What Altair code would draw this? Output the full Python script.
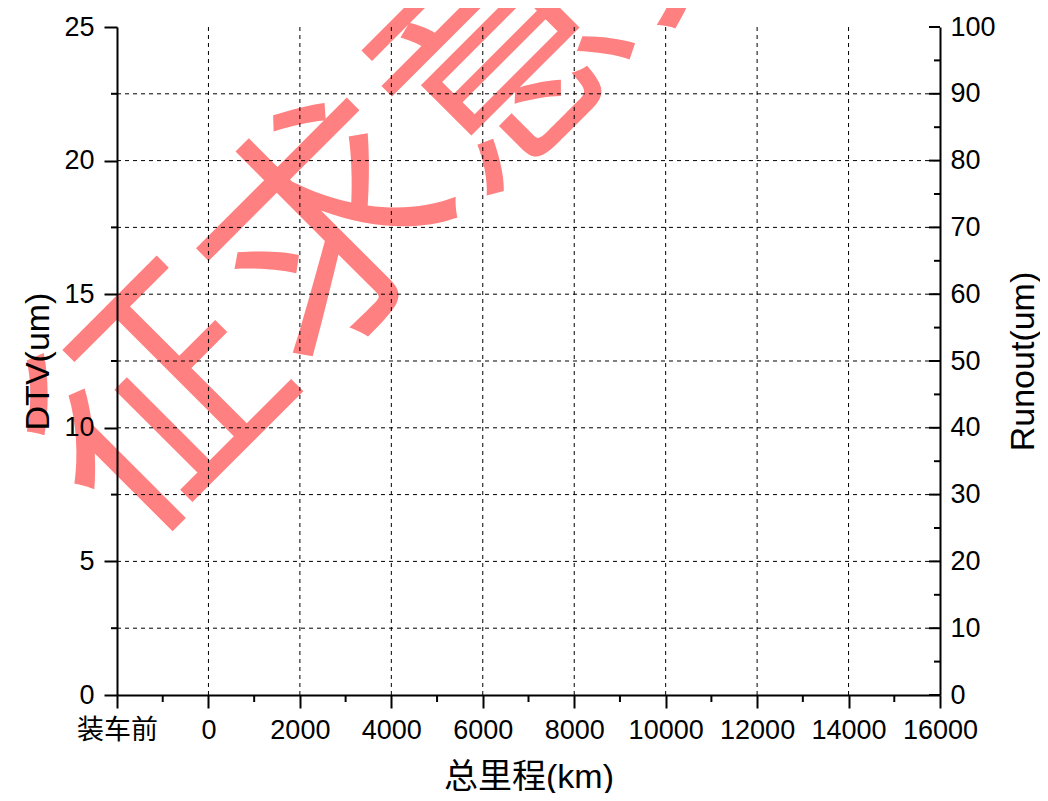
import altair as alt
import pandas as pd

# ---- data (axis ticks / labels) ----
x_major = [-2000, 0, 2000, 4000, 6000, 8000, 10000, 12000, 14000, 16000]
x_first_label = "装车前"
x_minor = [-1000, 1000, 3000, 5000, 7000, 9000, 11000, 13000, 15000]
x_grid = [0, 2000, 4000, 6000, 8000, 10000, 12000, 14000]
dtv_major = [0, 5, 10, 15, 20, 25]
dtv_minor = [2.5, 7.5, 12.5, 17.5, 22.5]
runout_major = [0, 10, 20, 30, 40, 50, 60, 70, 80, 90, 100]
runout_minor = [5, 15, 25, 35, 45, 55, 65, 75, 85, 95]
runout_grid = [10, 20, 30, 40, 50, 60, 70, 80, 90]
watermark_text = ["征求意见稿"]

W, H = 823, 668
FONT = "Liberation Sans, Noto Sans CJK SC"
X_DOM = [-2000, 16000]
DTV_DOM = [0, 25]
RUN_DOM = [0, 100]

xs = alt.Scale(domain=X_DOM, nice=False, zero=False)
ls = alt.Scale(domain=DTV_DOM, nice=False, zero=False)
rs = alt.Scale(domain=RUN_DOM, nice=False, zero=False)

x_axis = alt.Axis(
    orient="bottom", values=x_major, format="d",
    labelExpr=f"datum.value == {x_major[0]} ? '{x_first_label}' : datum.label",
    title="总里程(km)", grid=False, tickSize=13, tickWidth=2, domainWidth=2,
    labelPadding=9, titlePadding=17, zindex=1, labelOverlap=False,
    labelFlush=False)

def X():
    return alt.X("x:Q", scale=xs, axis=x_axis)

# watermark
wm = alt.Chart(pd.DataFrame({"t": watermark_text})).mark_text(
    angle=315, fontSize=244, color="#ff8080", align="center", baseline="middle",
    font="Noto Sans CJK SC"
).encode(text="t:N", x=alt.value(391), y=alt.value(38))

# grid lines
vgrid = alt.Chart(pd.DataFrame({"x": x_grid})).mark_rule(
    color="black", strokeWidth=1, strokeDash=[4, 4]
).encode(x=X(), y=alt.value(0), y2=alt.value(H))

hgrid = alt.Chart(pd.DataFrame({"r": runout_grid})).mark_rule(
    color="black", strokeWidth=1, strokeDash=[4, 4]
).encode(y=alt.Y("r:Q", scale=rs, axis=None), x=alt.value(0), x2=alt.value(W))

# main axes (left + bottom)
base = alt.Chart(pd.DataFrame({"x": x_major, "y": [0] * len(x_major)})).mark_point(
    opacity=0
).encode(
    x=X(),
    y=alt.Y("y:Q", scale=ls, axis=alt.Axis(
        orient="left", values=dtv_major, title="DTV(um)", grid=False,
        tickSize=13, tickWidth=2, domainWidth=2, labelPadding=10,
        titlePadding=8, zindex=1)),
)

right = alt.Chart(pd.DataFrame({"r": runout_major})).mark_point(opacity=0).encode(
    y=alt.Y("r:Q", scale=rs, axis=alt.Axis(
        orient="right", values=runout_major, title="Runout(um)", grid=False,
        ticks=False, tickSize=0, domainWidth=2, labelPadding=10,
        titlePadding=11, titleAngle=270, titleBaseline="top", zindex=1)),
)

# minor / inward ticks
xminor = alt.Chart(pd.DataFrame({"x": x_minor})).mark_rule(
    color="black", strokeWidth=2
).encode(x=X(), y=alt.value(H), y2=alt.value(H + 7))

lminor = alt.Chart(pd.DataFrame({"y": dtv_minor})).mark_rule(
    color="black", strokeWidth=2
).encode(y=alt.Y("y:Q", scale=ls, axis=None), x=alt.value(-6), x2=alt.value(0))

rmajor = alt.Chart(pd.DataFrame({"r": runout_major})).mark_rule(
    color="black", strokeWidth=2
).encode(y=alt.Y("r:Q", scale=rs, axis=None), x=alt.value(W - 11), x2=alt.value(W))

rminor = alt.Chart(pd.DataFrame({"r": runout_minor})).mark_rule(
    color="black", strokeWidth=2
).encode(y=alt.Y("r:Q", scale=rs, axis=None), x=alt.value(W - 6), x2=alt.value(W))

chart = alt.layer(
    wm, base, right, vgrid, hgrid, xminor, lminor, rmajor, rminor
).resolve_scale(y="independent").properties(
    width=W, height=H,
    background="white",
    autosize=alt.AutoSizeParams(type="none"),
    padding={"left": 109, "top": 19, "right": 100, "bottom": 98},
).configure_view(stroke=None).configure_axis(
    labelFont=FONT, titleFont=FONT, labelFontSize=27, titleFontSize=34,
    titleFontWeight="normal", labelColor="black", titleColor="black",
    domainColor="black", tickColor="black",
)

chart.save("out.html", embed_options={"renderer": "svg", "actions": False})
